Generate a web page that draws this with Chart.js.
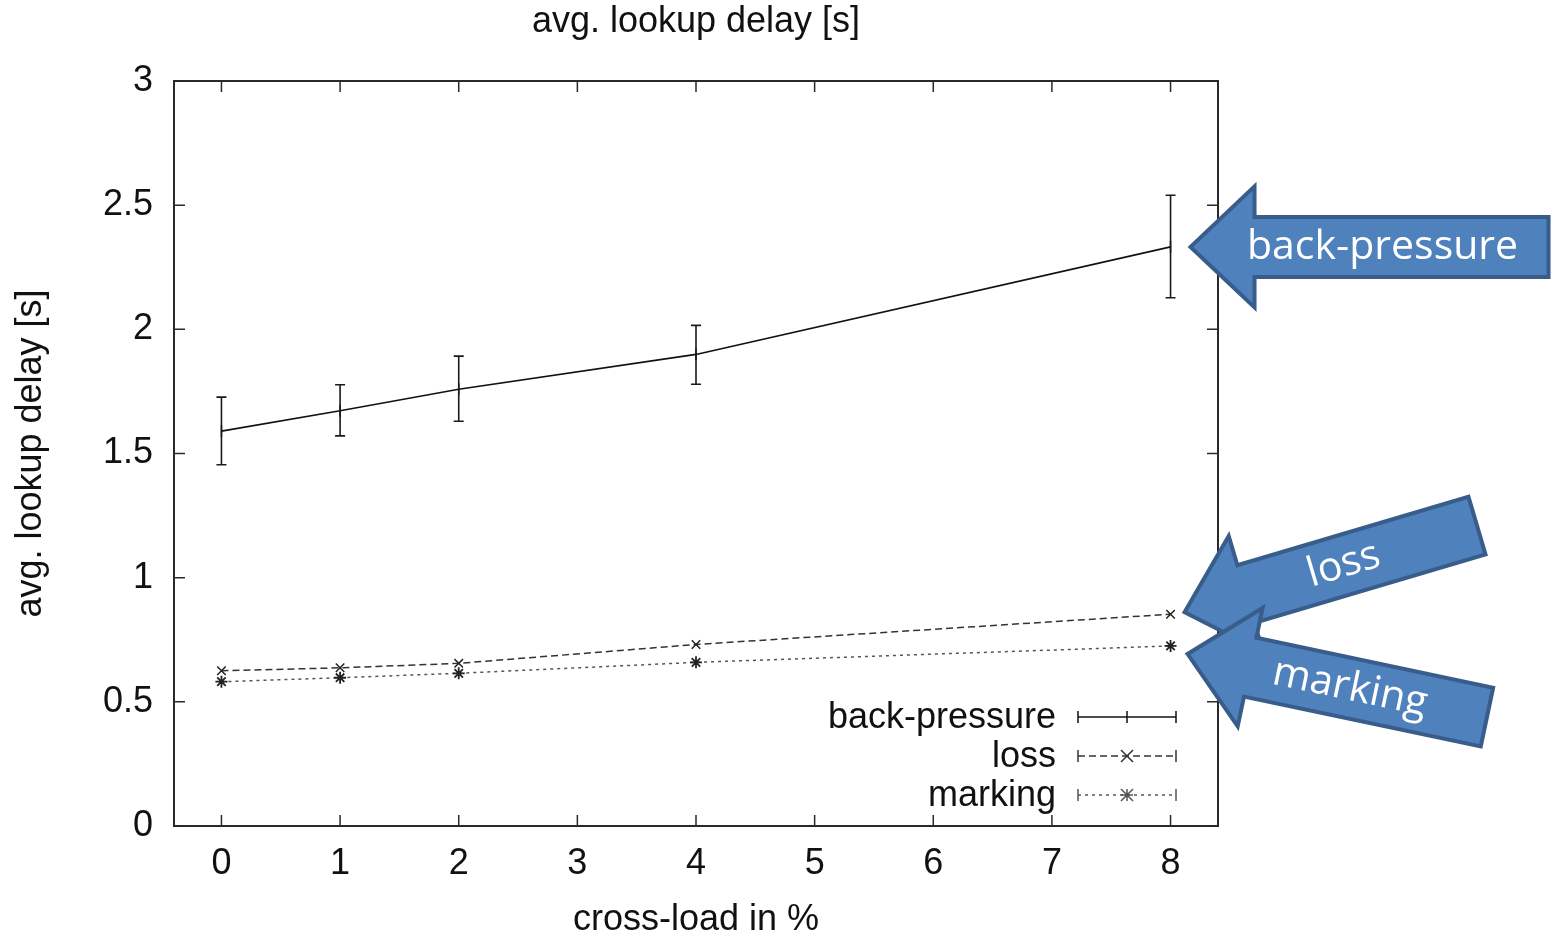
<!DOCTYPE html>
<html>
<head>
<meta charset="utf-8">
<script src="https://cdn.jsdelivr.net/npm/chart.js@4.4.1/dist/chart.umd.min.js"></script>
<style>
  html, body { margin: 0; padding: 0; background: #fff; }
  #wrap { width: 1555px; height: 942px; }
</style>
</head>
<body>
<div id="wrap"><canvas id="chart" width="1555" height="942"></canvas></div>
<script>
const FONT = "'Liberation Sans', Arial, sans-serif";
const ARROW_FONT = "'Open Sans', 'Noto Sans', sans-serif";

// data
const crossLoad = [0, 1, 2, 4, 8];
const xTicks = [0, 1, 2, 3, 4, 5, 6, 7, 8];
const yTicks = [0, 0.5, 1, 1.5, 2, 2.5, 3];

const backPressure = [1.590, 1.672, 1.759, 1.899, 2.332];
const backPressureLow = [1.455, 1.571, 1.630, 1.779, 2.127];
const backPressureHigh = [1.727, 1.777, 1.892, 2.016, 2.540];
const loss = [0.625, 0.637, 0.655, 0.731, 0.853];
const marking = [0.581, 0.597, 0.615, 0.659, 0.725];

const seriesNames = ['back-pressure', 'loss', 'marking'];

function points(vals) {
  return crossLoad.map((x, i) => ({ x: x, y: vals[i] }));
}

// box round the plot with gnuplot style inward ticks
const frame = {
  id: 'frame',
  beforeDatasetsDraw(chart) {
    const { ctx, chartArea: a, scales: { x, y } } = chart;
    ctx.save();
    ctx.strokeStyle = '#2a2a2a';
    ctx.lineWidth = 2;
    ctx.strokeRect(a.left, a.top, a.width, a.height);
    ctx.lineWidth = 1.5;
    ctx.beginPath();
    y.ticks.forEach(t => {
      const py = y.getPixelForValue(t.value);
      ctx.moveTo(a.left, py); ctx.lineTo(a.left + 11, py);
      ctx.moveTo(a.right, py); ctx.lineTo(a.right - 11, py);
    });
    x.ticks.forEach(t => {
      const px = x.getPixelForValue(t.value);
      ctx.moveTo(px, a.bottom); ctx.lineTo(px, a.bottom - 11);
      ctx.moveTo(px, a.top); ctx.lineTo(px, a.top + 11);
    });
    ctx.stroke();
    ctx.restore();
  }
};

const errorBars = {
  id: 'errorBars',
  afterDatasetsDraw(chart) {
    const { ctx, scales: { x, y } } = chart;
    ctx.save();
    ctx.strokeStyle = '#1a1a1a';
    ctx.lineWidth = 1.6;
    ctx.beginPath();
    crossLoad.forEach((v, i) => {
      const px = x.getPixelForValue(v);
      const lo = y.getPixelForValue(backPressureLow[i]);
      const hi = y.getPixelForValue(backPressureHigh[i]);
      ctx.moveTo(px, lo); ctx.lineTo(px, hi);
      ctx.moveTo(px - 5, lo); ctx.lineTo(px + 5, lo);
      ctx.moveTo(px - 5, hi); ctx.lineTo(px + 5, hi);
    });
    ctx.stroke();
    ctx.restore();
  }
};

function drawMarker(ctx, kind, cx, cy, r) {
  ctx.beginPath();
  if (kind === 'plus') {
    ctx.moveTo(cx, cy - r); ctx.lineTo(cx, cy + r);
  } else if (kind === 'x') {
    ctx.moveTo(cx - r, cy - r); ctx.lineTo(cx + r, cy + r);
    ctx.moveTo(cx - r, cy + r); ctx.lineTo(cx + r, cy - r);
  } else {
    ctx.moveTo(cx - r, cy - r); ctx.lineTo(cx + r, cy + r);
    ctx.moveTo(cx - r, cy + r); ctx.lineTo(cx + r, cy - r);
    ctx.moveTo(cx, cy - r); ctx.lineTo(cx, cy + r);
    ctx.moveTo(cx - r, cy); ctx.lineTo(cx + r, cy);
  }
  ctx.stroke();
}

// legend in the lower right corner, text left of the sample
const keyBox = {
  id: 'keyBox',
  afterDatasetsDraw(chart) {
    const { ctx, chartArea: a } = chart;
    const markers = ['plus', 'x', 'star'];
    ctx.save();
    ctx.font = '36px ' + FONT;
    ctx.textAlign = 'right';
    ctx.textBaseline = 'middle';
    chart.data.datasets.forEach((ds, i) => {
      const ry = a.bottom - 31 - (2 - i) * 39;
      const x0 = a.right - 140, x1 = a.right - 42;
      ctx.fillStyle = '#111';
      ctx.fillText(seriesNames[i], a.right - 162, ry + 1);
      ctx.strokeStyle = ds.borderColor;
      ctx.lineWidth = 1.5;
      ctx.setLineDash(ds.borderDash || []);
      ctx.beginPath();
      ctx.moveTo(x0, ry); ctx.lineTo(x1, ry);
      ctx.stroke();
      ctx.setLineDash([]);
      ctx.beginPath();
      ctx.moveTo(x0, ry - 6); ctx.lineTo(x0, ry + 6);
      ctx.moveTo(x1, ry - 6); ctx.lineTo(x1, ry + 6);
      ctx.stroke();
      drawMarker(ctx, markers[i], (x0 + x1) / 2, ry, 6);
    });
    ctx.restore();
  }
};

function drawArrow(ctx, tipX, tipY, angleDeg, len, label, textAt) {
  const shaft = 60, head = 121, headLen = 64;
  ctx.save();
  ctx.translate(tipX, tipY);
  ctx.rotate(angleDeg * Math.PI / 180);
  ctx.beginPath();
  ctx.moveTo(0, 0);
  ctx.lineTo(headLen, -head / 2);
  ctx.lineTo(headLen, -shaft / 2);
  ctx.lineTo(len, -shaft / 2);
  ctx.lineTo(len, shaft / 2);
  ctx.lineTo(headLen, shaft / 2);
  ctx.lineTo(headLen, head / 2);
  ctx.closePath();
  ctx.fillStyle = '#4f81bd';
  ctx.fill();
  ctx.lineWidth = 4;
  ctx.lineJoin = 'miter';
  ctx.strokeStyle = '#385d8a';
  ctx.stroke();
  ctx.fillStyle = '#fff';
  ctx.font = '41px ' + ARROW_FONT;
  ctx.textAlign = 'center';
  ctx.textBaseline = 'middle';
  ctx.fillText(label, textAt, 0);
  ctx.restore();
}

const arrows = {
  id: 'arrows',
  afterDraw(chart) {
    const { ctx, scales: { x, y } } = chart;
    const px = x.getPixelForValue(crossLoad[crossLoad.length - 1]);
    drawArrow(ctx, px + 20, y.getPixelForValue(backPressure[4]), 0, 358, 'back-pressure', 192);
    drawArrow(ctx, px + 14, y.getPixelForValue(loss[4]) - 2, -16.5, 305, 'loss', 166);
    drawArrow(ctx, px + 17, y.getPixelForValue(marking[4]) + 8, 11.9, 306, 'marking', 166);
  }
};

const tickFont = { family: FONT, size: 36, weight: 'normal' };

new Chart(document.getElementById('chart'), {
  type: 'line',
  data: {
    datasets: [
      {
        label: seriesNames[0],
        data: points(backPressure),
        borderColor: '#111',
        borderWidth: 1.6,
        pointStyle: 'line',
        rotation: 90,
        pointRadius: 6,
        pointBorderColor: '#111',
        pointBorderWidth: 1.5,
        fill: false
      },
      {
        label: seriesNames[1],
        data: points(loss),
        borderColor: '#333',
        borderWidth: 1.5,
        borderDash: [7, 4],
        pointStyle: 'crossRot',
        pointRadius: 6,
        pointBorderColor: '#222',
        pointBorderWidth: 1.5,
        fill: false
      },
      {
        label: seriesNames[2],
        data: points(marking),
        borderColor: '#555',
        borderWidth: 1.5,
        borderDash: [3, 4],
        pointStyle: 'star',
        pointRadius: 6,
        pointBorderColor: '#222',
        pointBorderWidth: 1.8,
        fill: false
      }
    ]
  },
  options: {
    responsive: false,
    animation: false,
    layout: { padding: { left: 0, right: 337, top: 0, bottom: 0 } },
    plugins: {
      legend: { display: false },
      tooltip: { enabled: false },
      title: {
        display: true,
        text: 'avg. lookup delay [s]',
        fullSize: false,
        color: '#111',
        font: { family: FONT, size: 36, weight: 'normal' },
        padding: { top: 0, bottom: 37.8 }
      }
    },
    scales: {
      x: {
        type: 'linear',
        min: -0.4,
        max: 8.4,
        afterBuildTicks: s => { s.ticks = xTicks.map(v => ({ value: v })); },
        afterFit: s => { s.height = 116; },
        grid: { display: false, drawTicks: false },
        border: { display: false },
        ticks: { padding: 16, color: '#111', font: tickFont, callback: v => String(v) },
        title: { display: true, text: 'cross-load in %', color: '#111', font: tickFont, padding: 0 }
      },
      y: {
        type: 'linear',
        min: 0,
        max: 3,
        afterBuildTicks: s => { s.ticks = yTicks.map(v => ({ value: v })); },
        afterFit: s => { s.width = 174; },
        grid: { display: false, drawTicks: false },
        border: { display: false },
        ticks: { padding: 21, color: '#111', font: tickFont, callback: v => String(v) },
        title: { display: true, text: 'avg. lookup delay [s]', color: '#111', font: tickFont, padding: { top: 9, bottom: 0 } }
      }
    }
  },
  plugins: [frame, errorBars, keyBox, arrows]
});
</script>
</body>
</html>
